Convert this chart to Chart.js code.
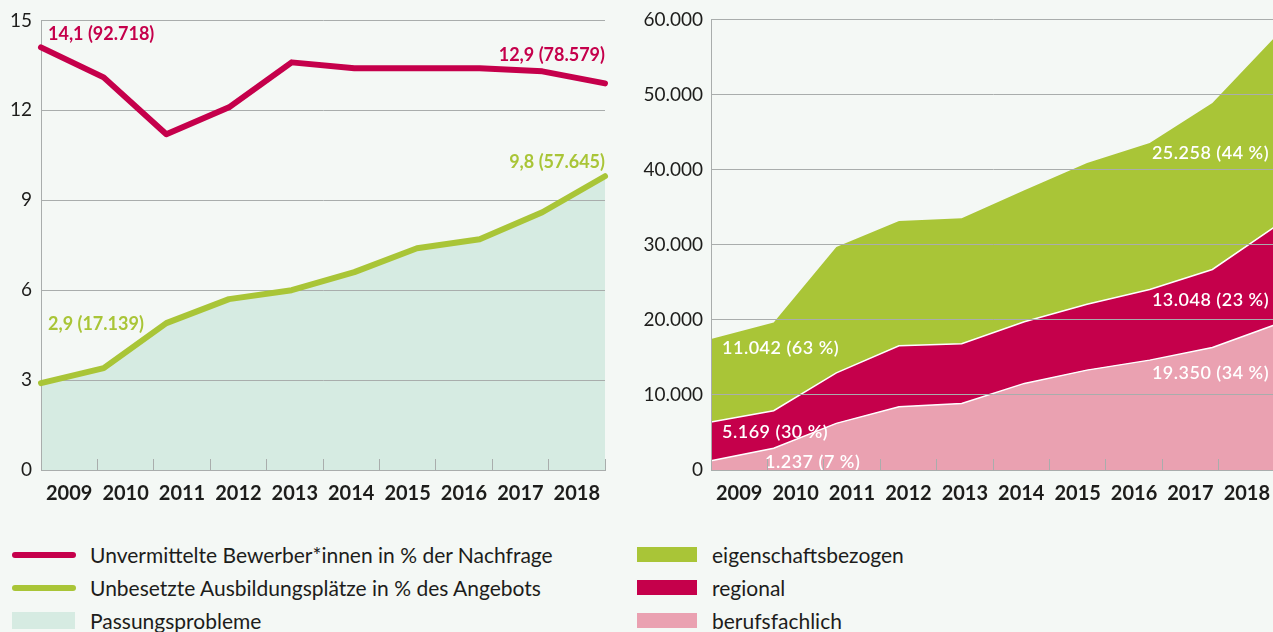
<!DOCTYPE html>
<html lang="de">
<head>
<meta charset="utf-8">
<title>Passungsprobleme</title>
<script src="https://cdn.jsdelivr.net/npm/chart.js@4.4.1/dist/chart.umd.min.js"></script>
<style>
  html, body { margin: 0; padding: 0; background: #f4f8f5; overflow: hidden; }
  body { position: relative; width: 1273px; height: 632px; font-family: Lato, sans-serif; color: #1d1d1b; }
  .chart-box { position: absolute; top: 0; height: 520px; }
  #boxLeft { left: 0; width: 630px; }
  #boxRight { left: 630px; width: 664px; }
  .legend { position: absolute; top: 538px; margin: 0; padding: 0; list-style: none; font-size: 21px; }
  #legendLeft { left: 12px; }
  #legendRight { left: 637px; }
  .legend li { height: 33px; display: flex; align-items: center; white-space: nowrap; }
  .sw-line { display: inline-block; width: 64px; height: 6px; border-radius: 3px; margin-right: 14px; }
  .sw-box { display: inline-block; width: 63px; height: 17px; margin-right: 15px; }
  #legendRight .sw-box { width: 60px; height: 15px; }
</style>
</head>
<body>
<div class="chart-box" id="boxLeft"><canvas id="chartQuoten"></canvas></div>
<div class="chart-box" id="boxRight"><canvas id="chartArten"></canvas></div>
<ul class="legend" id="legendLeft"></ul>
<ul class="legend" id="legendRight"></ul>

<script>
// Daten
const years = ['2009', '2010', '2011', '2012', '2013', '2014', '2015', '2016', '2017', '2018'];

// linkes Diagramm: Quoten in %
const unvermittelt = [14.1, 13.1, 11.2, 12.1, 13.6, 13.4, 13.4, 13.4, 13.3, 12.9];
const unbesetzt = [2.9, 3.4, 4.9, 5.7, 6.0, 6.6, 7.4, 7.7, 8.6, 9.8];
const quotenTicks = [0, 3, 6, 9, 12, 15];

// rechtes Diagramm: Art der Passungsprobleme (Anzahl)
const berufsfachlich = [1237, 2890, 6210, 8420, 8870, 11530, 13300, 14630, 16320, 19350];
const regional = [5169, 5000, 6730, 8120, 7930, 8200, 8780, 9410, 10380, 13048];
const eigenschaftsbezogen = [11042, 11760, 16770, 16630, 16720, 17520, 18800, 19500, 22160, 25258];
const artenTicks = [0, 10000, 20000, 30000, 40000, 50000, 60000];

// Beschriftungen an den Punkten
const quotenLabels = ['14,1 (92.718)', '12,9 (78.579)', '9,8 (57.645)', '2,9 (17.139)'];
const artenLabels = ['11.042 (63 %)', '5.169 (30 %)', '1.237 (7 %)', '25.258 (44 %)', '13.048 (23 %)', '19.350 (34 %)'];

const ROT = '#c5004b';
const GRUEN = '#a9c537';
const MINT = '#d6ebe2';
const ROSA = '#eaa1b1';
const GRID = '#a9adac';
const TEXT = '#1d1d1b';

Chart.defaults.font.family = 'Lato, sans-serif';
Chart.defaults.color = TEXT;

const fmtDE = v => Number(v).toLocaleString('de-DE');

// Texte an Datenpunkten
const pointLabels = {
  id: 'pointLabels',
  afterDatasetsDraw(chart, args, opts) {
    const ctx = chart.ctx;
    ctx.save();
    ctx.font = opts.font;
    ctx.textBaseline = 'middle';
    if (opts.spacing) ctx.letterSpacing = opts.spacing;
    opts.items.forEach(it => {
      const pt = chart.getDatasetMeta(it.ds).data[it.idx];
      ctx.fillStyle = opts.color || chart.data.datasets[it.ds].borderColor;
      ctx.textAlign = it.align;
      ctx.fillText(it.text, pt.x + it.dx, pt.y + it.dy);
    });
    ctx.restore();
  }
};

// x-Achsen: Datenachse (Punkte an den Kanten) + Beschriftungsachse (Jahre in Feldern)
const xScales = (z) => ({
  x: { type: 'category', display: false, offset: false },
  xYears: {
    type: 'category',
    position: 'bottom',
    offset: true,
    grid: { offset: true, drawOnChartArea: false, drawTicks: true, tickLength: -11, color: GRID, lineWidth: 1, z: z },
    border: { display: true, color: GRID, width: 1, z: z },
    ticks: { font: { size: 20, weight: 'bold' }, color: TEXT, padding: 23, maxRotation: 0, autoSkip: false },
    afterFit: s => { s.height = 50; }
  }
});

// ============ Diagramm 1: Quoten ============ //
const chartQuoten = new Chart(document.getElementById('chartQuoten'), {
  type: 'line',
  data: {
    labels: years,
    datasets: [
      {
        label: 'Unvermittelte Bewerber*innen in % der Nachfrage',
        data: unvermittelt,
        borderColor: ROT,
        borderWidth: 6,
        borderCapStyle: 'round',
        borderJoinStyle: 'round',
        pointRadius: 0,
        tension: 0,
        fill: false,
        clip: false
      },
      {
        label: 'Unbesetzte Ausbildungsplätze in % des Angebots',
        data: unbesetzt,
        borderColor: GRUEN,
        borderWidth: 6,
        borderCapStyle: 'round',
        borderJoinStyle: 'round',
        pointRadius: 0,
        tension: 0,
        fill: false,
        clip: false
      },
      {
        label: 'Passungsprobleme',
        data: unbesetzt,
        borderWidth: 0,
        borderColor: 'rgba(0,0,0,0)',
        backgroundColor: MINT,
        pointRadius: 0,
        tension: 0,
        fill: 'origin'
      }
    ]
  },
  options: {
    responsive: true,
    maintainAspectRatio: false,
    animation: false,
    events: [],
    layout: { padding: { top: 19, right: 25, left: 0, bottom: 0 } },
    scales: {
      ...xScales(0),
      y: {
        min: 0,
        max: 15,
        afterBuildTicks: s => { s.ticks = quotenTicks.map(v => ({ value: v })); },
        grid: { color: GRID, lineWidth: 1, drawTicks: false },
        border: { display: true, color: GRID, width: 1 },
        ticks: { font: { size: 19 }, color: TEXT, padding: 9 },
        afterFit: s => { s.width = 41; }
      }
    },
    plugins: {
      legend: { display: false },
      tooltip: { enabled: false },
      filler: { drawTime: 'beforeDraw' },
      pointLabels: {
        font: 'bold 18px Lato, sans-serif',
        items: [
          { ds: 0, idx: 0, text: quotenLabels[0], align: 'left', dx: 7, dy: -13 },
          { ds: 0, idx: 9, text: quotenLabels[1], align: 'right', dx: 0, dy: -28 },
          { ds: 1, idx: 9, text: quotenLabels[2], align: 'right', dx: 0, dy: -14 },
          { ds: 1, idx: 0, text: quotenLabels[3], align: 'left', dx: 7, dy: -59 }
        ]
      }
    }
  },
  plugins: [pointLabels]
});

// ============ Diagramm 2: Art der Passungsprobleme ============ //
const chartArten = new Chart(document.getElementById('chartArten'), {
  type: 'line',
  data: {
    labels: years,
    datasets: [
      {
        label: 'berufsfachlich',
        data: berufsfachlich,
        backgroundColor: ROSA,
        borderColor: '#ffffff',
        borderWidth: 1.5,
        pointRadius: 0,
        tension: 0,
        fill: 'origin'
      },
      {
        label: 'regional',
        data: regional,
        backgroundColor: ROT,
        borderColor: '#ffffff',
        borderWidth: 1.5,
        pointRadius: 0,
        tension: 0,
        fill: '-1'
      },
      {
        label: 'eigenschaftsbezogen',
        data: eigenschaftsbezogen,
        backgroundColor: GRUEN,
        borderColor: GRUEN,
        borderWidth: 0,
        pointRadius: 0,
        tension: 0,
        fill: '-1'
      }
    ]
  },
  options: {
    responsive: true,
    maintainAspectRatio: false,
    animation: false,
    events: [],
    layout: { padding: { top: 19, right: 1, left: 0, bottom: 0 } },
    scales: {
      ...xScales(1),
      y: {
        stacked: true,
        min: 0,
        max: 60000,
        afterBuildTicks: s => { s.ticks = artenTicks.map(v => ({ value: v })); },
        grid: { color: GRID, lineWidth: 1, drawTicks: false, z: 1 },
        border: { display: true, color: GRID, width: 1, z: 1 },
        ticks: { font: { size: 19 }, color: TEXT, padding: 8, callback: v => fmtDE(v) },
        afterFit: s => { s.width = 81; }
      }
    },
    plugins: {
      legend: { display: false },
      tooltip: { enabled: false },
      filler: { drawTime: 'beforeDatasetDraw' },
      pointLabels: {
        font: '600 18px Lato, sans-serif',
        color: '#ffffff',
        spacing: '0.5px',
        items: [
          { ds: 2, idx: 0, text: artenLabels[0], align: 'left', dx: 11, dy: 9 },
          { ds: 1, idx: 0, text: artenLabels[1], align: 'left', dx: 11, dy: 10 },
          { ds: 0, idx: 0, text: artenLabels[2], align: 'left', dx: 54, dy: 1 },
          { ds: 2, idx: 9, text: artenLabels[3], align: 'right', dx: -6, dy: 116 },
          { ds: 1, idx: 9, text: artenLabels[4], align: 'right', dx: -6, dy: 73 },
          { ds: 0, idx: 9, text: artenLabels[5], align: 'right', dx: -6, dy: 49 }
        ]
      }
    }
  },
  plugins: [pointLabels]
});

// HTML-Legenden unter den Diagrammen
function buildLegend(chart, el, reverse) {
  let sets = chart.data.datasets.slice();
  if (reverse) sets = sets.reverse();
  sets.forEach(ds => {
    const li = document.createElement('li');
    const sw = document.createElement('span');
    if (ds.fill) {
      sw.className = 'sw-box';
      sw.style.background = ds.backgroundColor;
    } else {
      sw.className = 'sw-line';
      sw.style.background = ds.borderColor;
    }
    const txt = document.createElement('span');
    txt.textContent = ds.label;
    li.appendChild(sw);
    li.appendChild(txt);
    el.appendChild(li);
  });
}

buildLegend(chartQuoten, document.getElementById('legendLeft'), false);
buildLegend(chartArten, document.getElementById('legendRight'), true);
</script>
</body>
</html>
